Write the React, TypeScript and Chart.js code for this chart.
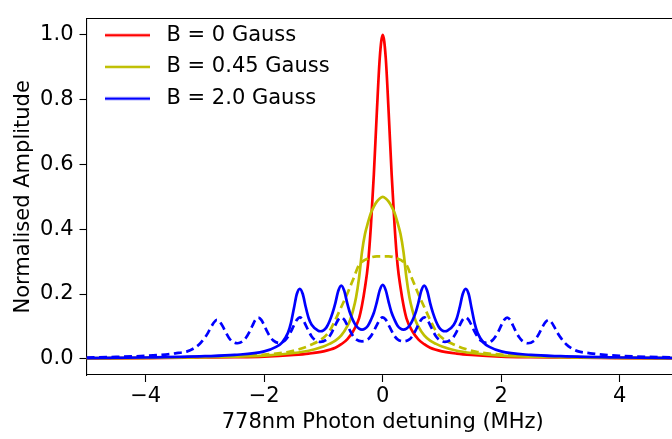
import React, { useEffect, useRef } from 'react';
import { Chart, registerables } from 'chart.js';

Chart.register(...registerables);

// ---------- data ----------
const seriesLabels = ['B = 0 Gauss', 'B = 0.45 Gauss', 'B = 2.0 Gauss'];
const xTitle = '778nm Photon detuning (MHz)';
const yTitle = 'Normalised Amplitude';
const xTicks = [-4, -2, 0, 2, 4];
const yTicks = [0, 0.2, 0.4, 0.6, 0.8, 1.0];

// B = 0 Gauss (red, solid)
const redX = [-5, -4, -3, -2.5, -2, -1.5, -1.25, -1, -0.8, -0.7, -0.6, -0.5, -0.4, -0.35, -0.3, -0.25, -0.2, -0.15, -0.1, -0.05, 0,
  0.05, 0.1, 0.15, 0.2, 0.25, 0.3, 0.35, 0.4, 0.5, 0.6, 0.7, 0.8, 1, 1.25, 1.5, 2, 2.5, 3, 4, 5];
const redY = [0.001, 0.002, 0.004, 0.005, 0.007, 0.012, 0.016, 0.023, 0.034, 0.045, 0.06, 0.085, 0.125, 0.165, 0.22, 0.29, 0.41, 0.57, 0.76, 0.93, 1.0,
  0.93, 0.76, 0.57, 0.41, 0.29, 0.22, 0.165, 0.125, 0.085, 0.06, 0.045, 0.034, 0.023, 0.016, 0.012, 0.007, 0.005, 0.004, 0.002, 0.001];

// B = 0.45 Gauss (olive, solid)
const ySolidX = [-5, -4, -3, -2.5, -2, -1.5, -1.25, -1, -0.9, -0.8, -0.7, -0.6, -0.55, -0.5, -0.45, -0.4, -0.35, -0.3, -0.25, -0.2, -0.15, -0.1, -0.05, 0,
  0.05, 0.1, 0.15, 0.2, 0.25, 0.3, 0.35, 0.4, 0.45, 0.5, 0.55, 0.6, 0.7, 0.8, 0.9, 1, 1.25, 1.5, 2, 2.5, 3, 4, 5];
const ySolidY = [0.002, 0.003, 0.005, 0.007, 0.01, 0.018, 0.025, 0.038, 0.046, 0.056, 0.072, 0.1, 0.12, 0.15, 0.19, 0.25, 0.33, 0.385, 0.42, 0.45, 0.47, 0.485, 0.495, 0.5,
  0.495, 0.485, 0.47, 0.45, 0.42, 0.385, 0.33, 0.25, 0.19, 0.15, 0.12, 0.1, 0.072, 0.056, 0.046, 0.038, 0.025, 0.018, 0.01, 0.007, 0.005, 0.003, 0.002];

// B = 0.45 Gauss companion (olive, dashed)
const yDashX = [-5, -4, -3, -2.5, -2, -1.6, -1.4, -1.2, -1, -0.9, -0.8, -0.7, -0.6, -0.5, -0.4, -0.3, -0.2, -0.1, 0,
  0.1, 0.2, 0.3, 0.4, 0.5, 0.6, 0.7, 0.8, 0.9, 1, 1.2, 1.4, 1.6, 2, 2.5, 3, 4, 5];
const yDashY = [0.002, 0.003, 0.006, 0.008, 0.013, 0.021, 0.03, 0.044, 0.065, 0.085, 0.12, 0.16, 0.2, 0.245, 0.29, 0.305, 0.313, 0.316, 0.316,
  0.316, 0.313, 0.305, 0.29, 0.245, 0.2, 0.16, 0.12, 0.085, 0.065, 0.044, 0.03, 0.021, 0.013, 0.008, 0.006, 0.003, 0.002];

// B = 2.0 Gauss (blue, solid)
const bSolidX = [-5, -4, -3, -2.5, -2, -1.8, -1.7, -1.6, -1.55, -1.5, -1.45, -1.4, -1.35, -1.3, -1.25, -1.2, -1.1, -1.05, -1, -0.95,
  -0.9, -0.85, -0.8, -0.75, -0.7, -0.65, -0.6, -0.55, -0.5, -0.45, -0.4, -0.35, -0.3, -0.25, -0.2, -0.15, -0.1, -0.05, 0,
  0.05, 0.1, 0.15, 0.2, 0.25, 0.3, 0.35, 0.4, 0.45, 0.5, 0.55, 0.6, 0.65, 0.7, 0.75, 0.8, 0.85, 0.9,
  0.95, 1, 1.05, 1.1, 1.2, 1.25, 1.3, 1.35, 1.4, 1.45, 1.5, 1.55, 1.6, 1.7, 1.8, 2, 2.5, 3, 4, 5];
const bSolidY = [0.002, 0.004, 0.008, 0.012, 0.023, 0.037, 0.05, 0.08, 0.11, 0.155, 0.2, 0.216, 0.2, 0.16, 0.125, 0.105, 0.088, 0.085, 0.088, 0.097,
  0.115, 0.14, 0.172, 0.21, 0.226, 0.21, 0.172, 0.14, 0.118, 0.102, 0.093, 0.09, 0.093, 0.102, 0.12, 0.142, 0.175, 0.212, 0.228,
  0.212, 0.175, 0.142, 0.12, 0.102, 0.093, 0.09, 0.093, 0.102, 0.118, 0.14, 0.172, 0.21, 0.226, 0.21, 0.172, 0.14, 0.115,
  0.097, 0.088, 0.085, 0.088, 0.105, 0.125, 0.16, 0.2, 0.216, 0.2, 0.155, 0.11, 0.08, 0.05, 0.037, 0.023, 0.012, 0.008, 0.004, 0.002];

// B = 2.0 Gauss companion (blue, dashed)
const bDashX = [-5, -4.5, -4, -3.75, -3.5, -3.3, -3.2, -3.1, -3, -2.95, -2.9, -2.85, -2.8, -2.75, -2.7, -2.65, -2.6, -2.55, -2.45,
  -2.35, -2.3, -2.25, -2.2, -2.15, -2.1, -2.05, -2, -1.95, -1.9, -1.85, -1.75, -1.65, -1.6, -1.55, -1.5, -1.45, -1.4,
  -1.35, -1.3, -1.25, -1.2, -1.15, -1.05, -0.95, -0.9, -0.85, -0.8, -0.75, -0.7, -0.65, -0.6, -0.55, -0.5, -0.45, -0.35,
  -0.25, -0.2, -0.15, -0.1, -0.05, 0, 0.05, 0.1, 0.15, 0.2, 0.25, 0.35, 0.45, 0.5, 0.55, 0.6, 0.65, 0.7,
  0.75, 0.8, 0.85, 0.9, 0.95, 1.05, 1.15, 1.2, 1.25, 1.3, 1.35, 1.4, 1.45, 1.5, 1.55, 1.6, 1.65, 1.75,
  1.85, 1.9, 1.95, 2, 2.05, 2.1, 2.15, 2.2, 2.25, 2.3, 2.35, 2.45, 2.55, 2.6, 2.65, 2.7, 2.75, 2.8,
  2.85, 2.9, 2.95, 3, 3.1, 3.2, 3.3, 3.5, 3.75, 4, 4.5, 5];
const bDashY = [0.004, 0.006, 0.009, 0.012, 0.017, 0.023, 0.031, 0.044, 0.066, 0.08, 0.097, 0.112, 0.12, 0.114, 0.1, 0.082, 0.066, 0.055, 0.048,
  0.056, 0.067, 0.083, 0.102, 0.12, 0.127, 0.12, 0.103, 0.084, 0.068, 0.057, 0.049, 0.057, 0.068, 0.084, 0.103, 0.12, 0.128,
  0.121, 0.104, 0.085, 0.069, 0.059, 0.052, 0.059, 0.069, 0.085, 0.104, 0.121, 0.128, 0.121, 0.104, 0.086, 0.07, 0.06, 0.054,
  0.06, 0.07, 0.086, 0.104, 0.121, 0.128, 0.121, 0.104, 0.086, 0.07, 0.06, 0.054, 0.06, 0.07, 0.086, 0.104, 0.121, 0.128,
  0.121, 0.104, 0.085, 0.069, 0.059, 0.052, 0.059, 0.069, 0.085, 0.104, 0.121, 0.128, 0.12, 0.103, 0.084, 0.068, 0.057, 0.049,
  0.057, 0.068, 0.084, 0.103, 0.12, 0.127, 0.12, 0.102, 0.083, 0.067, 0.056, 0.048, 0.055, 0.066, 0.082, 0.1, 0.114, 0.12,
  0.112, 0.097, 0.08, 0.066, 0.044, 0.031, 0.023, 0.017, 0.012, 0.009, 0.006, 0.004];

// ---------- styling ----------
const RED = '#ff0000';
const OLIVE = '#bfbf00';
const BLUE = '#0000ff';
const LW = 2.7;
const FONT = 'DejaVu Sans';
const FS = 21;

const pts = (xs: number[], ys: number[]) => xs.map((x, i) => ({ x, y: ys[i] }));
const fmtX = (v: number) => (v < 0 ? '\u2212' + Math.abs(v) : String(v));

export default function App() {
  const ref = useRef<HTMLCanvasElement>(null);

  useEffect(() => {
    const canvas = ref.current;
    if (!canvas) return;

    const makeHandle = (color: string) => {
      const c = document.createElement('canvas');
      c.width = 51;
      c.height = 8;
      const g = c.getContext('2d')!;
      g.strokeStyle = color;
      g.lineWidth = LW;
      g.beginPath();
      g.moveTo(0, 4);
      g.lineTo(45, 4);
      g.stroke();
      return c;
    };

    const handles: Record<number, HTMLCanvasElement> = {
      0: makeHandle(RED),
      1: makeHandle(OLIVE),
      3: makeHandle(BLUE),
    };
    const legendIdx = [0, 1, 3];

    const legendShift = {
      id: 'legendShift',
      afterLayout(chart: any) {
        const l = chart.legend;
        if (l) {
          l.left += 7.8;
          l.top += 14;
        }
      },
    };

    const font = { family: FONT, size: FS };
    const common = { pointRadius: 0, pointHoverRadius: 0, fill: false, cubicInterpolationMode: 'monotone' as const };

    const chart = new Chart(canvas, {
      type: 'line',
      data: {
        datasets: [
          { ...common, label: seriesLabels[0], data: pts(redX, redY), borderColor: RED, backgroundColor: RED, borderWidth: LW, order: 5 },
          { ...common, label: seriesLabels[1], data: pts(ySolidX, ySolidY), borderColor: OLIVE, backgroundColor: OLIVE, borderWidth: LW, order: 4 },
          { ...common, label: '', data: pts(yDashX, yDashY), borderColor: OLIVE, backgroundColor: OLIVE, borderWidth: LW, borderDash: [8, 4.5], order: 3 },
          { ...common, label: seriesLabels[2], data: pts(bSolidX, bSolidY), borderColor: BLUE, backgroundColor: BLUE, borderWidth: LW, order: 2 },
          { ...common, label: '', data: pts(bDashX, bDashY), borderColor: BLUE, backgroundColor: BLUE, borderWidth: LW, borderDash: [8, 4.5], order: 1 },
        ],
      },
      options: {
        responsive: false,
        animation: false,
        devicePixelRatio: 1,
        layout: { padding: { left: 0, right: 21, top: 0, bottom: 0 } },
        scales: {
          x: {
            type: 'linear',
            position: 'bottom',
            min: -5,
            max: 5,
            afterBuildTicks: (s: any) => {
              s.ticks = xTicks.map((v) => ({ value: v }));
            },
            afterFit: (s: any) => {
              s.height = 64;
            },
            ticks: { callback: (v: any) => fmtX(Number(v)), font, color: '#000', padding: 2, maxRotation: 0, autoSkip: false },
            grid: { drawOnChartArea: false, drawTicks: true, tickLength: 7, tickColor: '#000', tickWidth: 1.1 },
            border: { display: true, color: '#000', width: 1.1 },
            title: { display: true, text: xTitle, font, color: '#000', padding: { top: 0, bottom: 4 } },
          },
          xTop: {
            type: 'linear',
            position: 'top',
            min: -5,
            max: 5,
            afterFit: (s: any) => {
              s.height = 5;
            },
            ticks: { display: false },
            grid: { display: false, drawTicks: false },
            border: { display: true, color: '#000', width: 1.1 },
          },
          y: {
            type: 'linear',
            position: 'left',
            min: -0.05,
            max: 1.05,
            afterBuildTicks: (s: any) => {
              s.ticks = yTicks.map((v) => ({ value: v }));
            },
            afterFit: (s: any) => {
              s.width = 86.5;
            },
            ticks: { callback: (v: any) => Number(v).toFixed(1), font, color: '#000', padding: 6, autoSkip: false },
            grid: { drawOnChartArea: false, drawTicks: true, tickLength: 7, tickColor: '#000', tickWidth: 1.1 },
            border: { display: true, color: '#000', width: 1.1 },
            title: { display: true, text: yTitle, font, color: '#000', padding: { top: 10.5, bottom: 0 } },
          },
        },
        plugins: {
          legend: {
            position: 'chartArea',
            align: 'start',
            labels: {
              font,
              color: '#000',
              usePointStyle: true,
              pointStyleWidth: 51,
              padding: 10.7,
              generateLabels: (ch: any) =>
                legendIdx.map((i) => {
                  const ds = ch.data.datasets[i];
                  return {
                    text: ds.label,
                    fillStyle: ds.borderColor,
                    strokeStyle: ds.borderColor,
                    lineWidth: 0,
                    pointStyle: handles[i],
                    hidden: false,
                    datasetIndex: i,
                    fontColor: '#000',
                  };
                }),
            },
          },
          tooltip: { enabled: false },
        },
      } as any,
      plugins: [legendShift],
    });

    return () => chart.destroy();
  }, []);

  return (
    <div style={{ position: 'fixed', left: 0, top: 0, width: 672, height: 439, overflow: 'hidden', background: '#fff' }}>
      <canvas ref={ref} width={700} height={439} style={{ display: 'block', width: 700, height: 439 }} />
    </div>
  );
}
